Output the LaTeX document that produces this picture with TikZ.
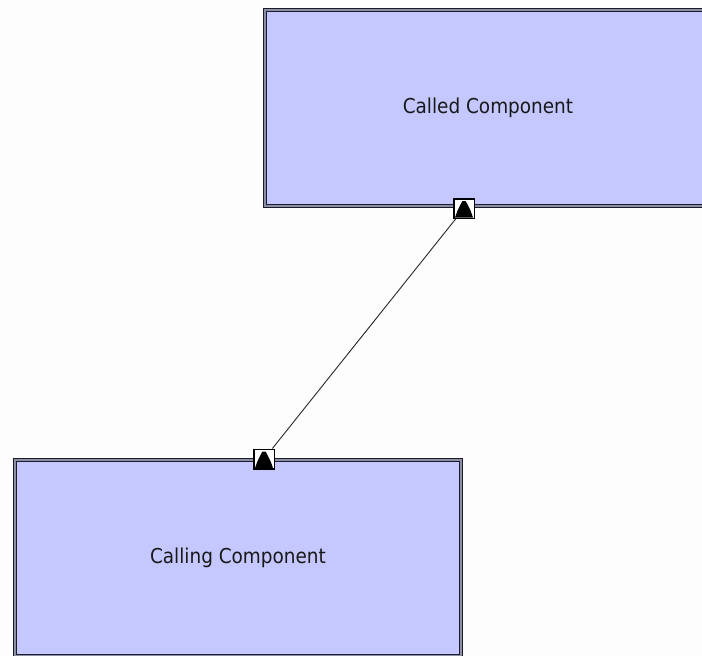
\documentclass[tikz,border=0pt]{standalone}
\usepackage{fontspec}
\setmainfont{DejaVu Sans Condensed}
\usetikzlibrary{positioning}
\definecolor{compfill}{RGB}{196,200,255}
\definecolor{compline}{RGB}{28,28,44}
\definecolor{compgap}{RGB}{140,142,166}
\definecolor{paper}{RGB}{253,253,253}
\tikzstyle{component} = [rectangle, draw=compline, line width=1.5pt, double=compgap, double distance=1.2pt, fill=compfill, minimum width=446pt, minimum height=196pt, inner sep=0pt, text=black!90, font=\fontsize{20.5}{24}\selectfont]
\tikzstyle{port} = [rectangle, draw=black, line width=1.5pt, fill=white, minimum width=20.5pt, minimum height=19.5pt, inner sep=0pt]
\tikzstyle{wire} = [draw=black!85, line width=0.9pt]

\begin{document}
\begin{tikzpicture}[x=1pt, y=-1pt]
        % page, in image units (y grows downwards)
        \fill[paper] (0,0) rectangle (702,656);
        \useasboundingbox (0,0) rectangle (702,656);

        \node (called) [component] at (488,108) {Called Component};
        \node (calling) [component] at (238,558) {Calling Component};

        \node (prov) [port] at (464,208.5) {};
        \node (req) [port] at (264,459) {};

        \draw[wire] (prov) -- (req);

        % interface glyph inside each port
        \foreach \p in {prov,req} {
            \begin{scope}[shift={(\p.center)}]
                \fill[black] (-9,9) -- (-6.5,2) -- (-3,-5) -- (-1.5,-7.5) -- (1.5,-7.5) -- (3,-5) -- (6.5,2) -- (9,9) -- cycle;
            \end{scope}
        }
    \end{tikzpicture}
\end{document}
